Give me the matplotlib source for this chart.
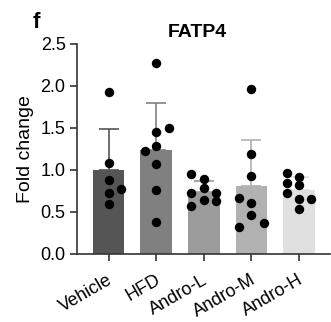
import numpy as np
import matplotlib
matplotlib.use("Agg")
import matplotlib.pyplot as plt
import matplotlib.transforms as mtransforms

plt.rcParams['font.family'] = ['Liberation Sans', 'DejaVu Sans']

# donnees
groupes = ["Vehicle", "HFD", "Andro-L", "Andro-M", "Andro-H"]
vehicle = [1.93, 1.08, 0.876, 0.73, 0.77, 0.60]
hfd = [2.27, 1.50, 1.45, 1.23, 1.28, 1.07, 0.76, 0.38]
andro_l = [0.95, 0.89, 0.79, 0.73, 0.72, 0.57, 0.64, 0.63]
andro_m = [1.96, 1.19, 0.93, 0.67, 0.61, 0.46, 0.37, 0.32]
andro_h = [0.96, 0.92, 0.85, 0.82, 0.73, 0.65, 0.65, 0.54]
# decalage horizontal des points (comme dans le graphe original)
decal = [
    [0, 0, 0, 0, 0.26, 0],
    [0, 0.26, 0, -0.24, 0, 0, 0, 0],
    [-0.27, 0, 0, -0.27, 0.25, -0.27, 0, 0.25],
    [0, 0, 0, -0.26, 0, 0, 0.27, -0.26],
    [-0.25, 0, -0.25, 0, -0.25, 0, 0.25, 0],
]
couleurs = ["#555555", "#808080", "#9b9b9b", "#b1b1b1", "#e0e0e0"]

donnees = [vehicle, hfd, andro_l, andro_m, andro_h]
moyennes = [np.mean(d) for d in donnees]
ecarts = [np.std(d, ddof=1) for d in donnees]

fig = plt.figure(figsize=(3.31, 3.22), dpi=100)
ax = fig.add_axes([0.2317, 0.2112, 0.7653, 0.6528])

x = np.arange(len(groupes))
ax.bar(x, moyennes, width=0.665, color=couleurs, zorder=1)
for i in range(len(groupes)):
    ax.errorbar(x[i], moyennes[i], yerr=[[0], [ecarts[i]]], color=couleurs[i],
                capsize=7.5, elinewidth=1.2, capthick=1.2, zorder=2)
    ax.plot(x[i] + np.array(decal[i]), donnees[i], 'o', color='black', markersize=6.8,
            markeredgewidth=0, zorder=3)

ax.set_xlim(-0.67, 4.65)
ax.set_ylim(0, 2.5)
ax.set_yticks([0, 0.5, 1.0, 1.5, 2.0, 2.5])
ax.set_yticklabels(["0.0", "0.5", "1.0", "1.5", "2.0", "2.5"])
ax.set_xticks(x)
ax.set_xticklabels([])

# etiquettes de l'axe x, placees a la main (plus bas que par defaut)
decalage = mtransforms.ScaledTranslation(5 / 100, -29 / 100, fig.dpi_scale_trans)
for i in range(len(groupes)):
    ax.text(x[i], 0, groupes[i], transform=ax.get_xaxis_transform() + decalage,
            rotation=30, ha='right', va='baseline', rotation_mode='anchor', fontsize=13)

for s in ['top', 'right']:
    ax.spines[s].set_visible(False)
for s in ['left', 'bottom']:
    ax.spines[s].set_color('#333333')
    ax.spines[s].set_linewidth(1.2)
ax.tick_params(axis='both', colors='#333333', width=1.2, length=5, labelsize=13, labelcolor='black')
ax.tick_params(axis='y', pad=3)

ax.set_ylabel("Fold change", fontsize=14, labelpad=5)
ax.set_title("FATP4", fontsize=14, fontweight='bold', pad=5, x=0.475)
fig.text(0.1, 0.913, "f", fontsize=16, fontweight='bold')

plt.savefig("out.png", dpi=100)
